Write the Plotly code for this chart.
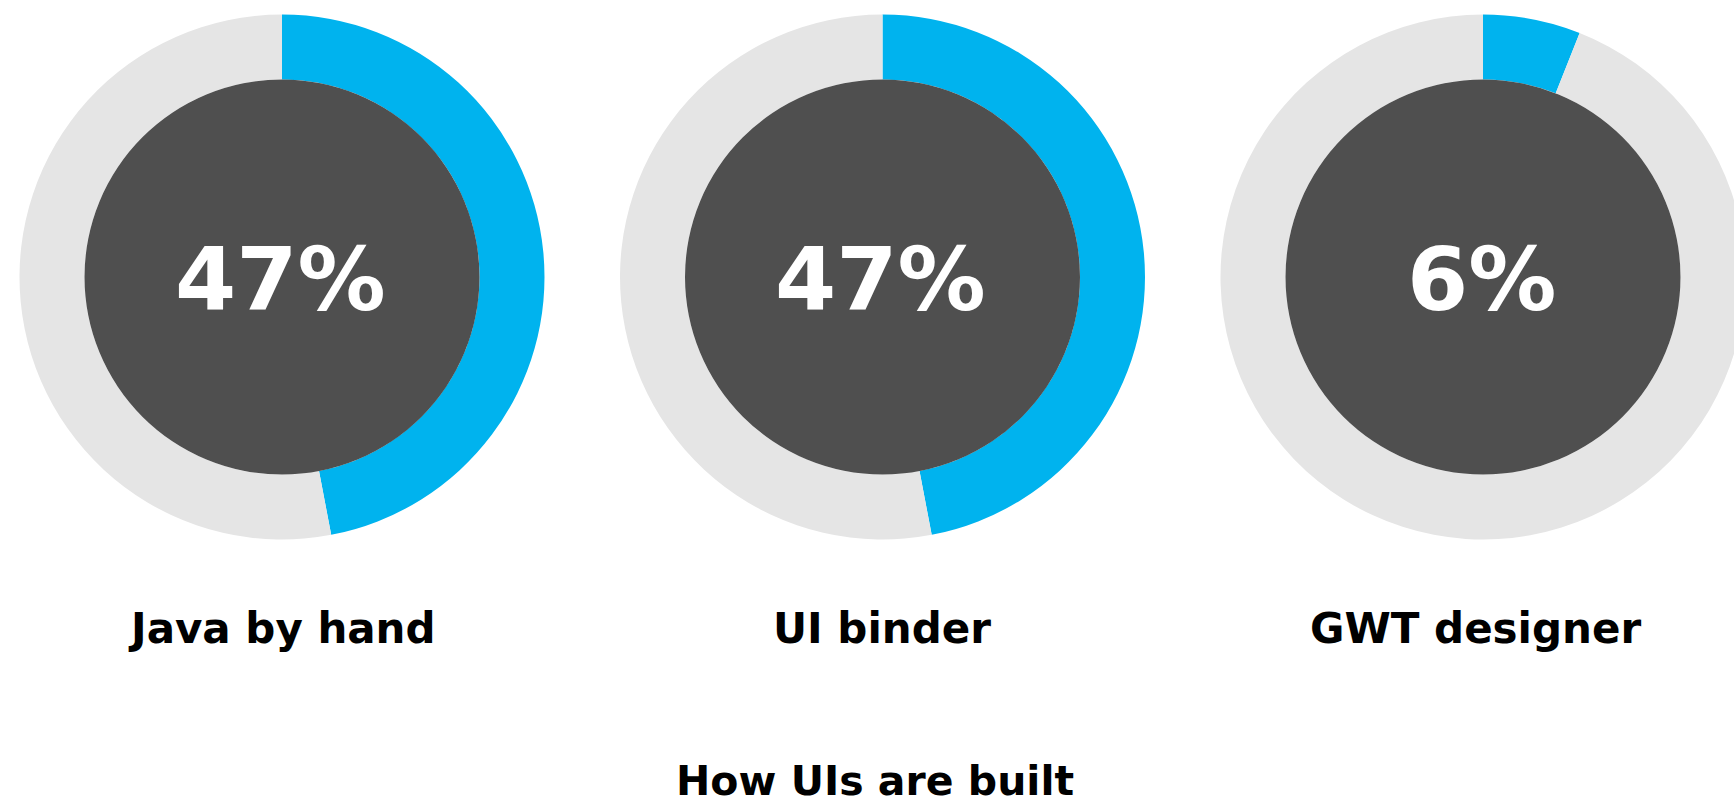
import plotly.graph_objects as go

# ---- data ----
categories = ["Java by hand", "UI binder", "GWT designer"]
share = [47, 47, 6]
rest = [53, 53, 94]
pct_labels = ["47%", "47%", "6%"]
title_text = "How UIs are built"

# ---- layout constants (screen pixels) ----
FIG_W, FIG_H = 1750, 806
centers_x = [282, 882.5, 1483]
center_y = 277
R_OUT = 262.5
R_IN = 197.5
label_x = [281.5, 882, 1475]
label_y = 628
title_x, title_y = 874.5, 781

BLUE = "#00B3EE"
GRAY = "#E5E5E5"
DARK = "#4F4F4F"


def px_x(x):
    return x / FIG_W


def px_y(y):
    return (FIG_H - y) / FIG_H


fig = go.Figure()
shapes = []
annotations = []
for i, cat in enumerate(categories):
    cx = centers_x[i]
    fig.add_trace(go.Pie(
        values=[share[i], rest[i]],
        labels=[cat, "other"],
        sort=False,
        direction="clockwise",
        rotation=0,
        hole=R_IN / R_OUT,
        marker=dict(colors=[BLUE, GRAY], line=dict(width=0)),
        textinfo="none",
        hoverinfo="label+percent",
        showlegend=False,
        domain=dict(x=[px_x(cx - R_OUT), px_x(cx + R_OUT)],
                    y=[px_y(center_y + R_OUT), px_y(center_y - R_OUT)]),
    ))
    shapes.append(dict(
        type="circle", xref="paper", yref="paper",
        x0=px_x(cx - R_IN), x1=px_x(cx + R_IN),
        y0=px_y(center_y + R_IN), y1=px_y(center_y - R_IN),
        fillcolor=DARK, line=dict(width=0), layer="above",
    ))
    annotations.append(dict(
        text=pct_labels[i], x=px_x(cx - 2), y=px_y(center_y + 2),
        xref="paper", yref="paper", xanchor="center", yanchor="middle",
        showarrow=False,
        font=dict(family="DejaVu Sans, sans-serif", size=88,
                  color="white", weight="bold"),
    ))
    annotations.append(dict(
        text=cat, x=px_x(label_x[i]), y=px_y(label_y),
        xref="paper", yref="paper", xanchor="center", yanchor="middle",
        showarrow=False,
        font=dict(family="DejaVu Sans, sans-serif", size=42,
                  color="black", weight="bold"),
    ))

annotations.append(dict(
    text=title_text, x=px_x(title_x), y=px_y(title_y),
    xref="paper", yref="paper", xanchor="center", yanchor="middle",
    showarrow=False,
    font=dict(family="DejaVu Sans, sans-serif", size=41,
              color="black", weight="bold"),
))

fig.update_layout(
    width=FIG_W, height=FIG_H,
    margin=dict(l=0, r=0, t=0, b=0),
    paper_bgcolor="white", plot_bgcolor="white",
    shapes=shapes, annotations=annotations,
)

fig.write_html(
    "out.html",
    config={"displayModeBar": False},
    post_script="document.body.style.margin='0';"
                "document.body.style.overflow='hidden';",
)
